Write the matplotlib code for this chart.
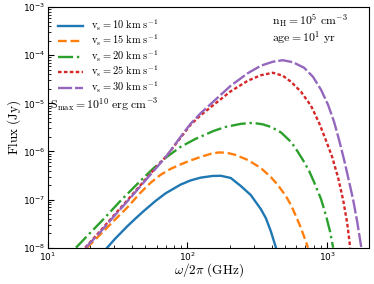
import numpy as np
import matplotlib
matplotlib.use("Agg")
import matplotlib.pyplot as plt

plt.rcParams['mathtext.fontset'] = 'cm'
plt.rcParams['xtick.direction'] = 'in'
plt.rcParams['ytick.direction'] = 'in'

# frequencies (GHz) and fluxes (Jy)
f10 = [26.6, 30.3, 37.0, 42.3, 48.2, 58.9, 69.5, 89.1, 105, 124, 151, 173, 204,
       241, 284, 335, 364, 395, 430]
s10 = [1e-8, 1.53e-8, 2.77e-8, 4.00e-8, 5.65e-8, 9.30e-8, 1.34e-7, 2.04e-7, 2.49e-7,
       2.85e-7, 3.09e-7, 3.12e-7, 2.81e-7, 1.91e-7, 1.24e-7, 6.34e-8, 4.12e-8, 2.21e-8, 1e-8]

f15 = [19.1, 21.8, 25.7, 30.3, 37.0, 45.9, 54.2, 63.9, 75.5, 89.1, 105, 124, 146, 167,
       191, 221, 270, 335, 395, 444, 507, 551, 598, 650, 730]
s15 = [1e-8, 1.47e-8, 2.37e-8, 3.83e-8, 6.81e-8, 1.37e-7, 2.21e-7, 3.24e-7, 4.32e-7,
       5.36e-7, 6.49e-7, 7.68e-7, 8.87e-7, 9.53e-7, 9.40e-7, 8.45e-7, 6.65e-7, 4.53e-7,
       2.94e-7, 2.00e-7, 1.18e-7, 7.68e-8, 4.53e-8, 2.55e-8, 1e-8]

f20 = [15.9, 20.0, 23.7, 27.9, 33.0, 38.9, 45.9, 56.9, 69.5, 89.1, 114, 154, 188, 241,
       294, 347, 395, 467, 551, 598, 671, 743, 806, 905, 984, 1052, 1105]
s20 = [1e-8, 2.00e-8, 3.32e-8, 5.49e-8, 9.30e-8, 1.50e-7, 2.43e-7, 4.43e-7, 7.32e-7,
       1.24e-6, 1.82e-6, 2.67e-6, 3.24e-6, 3.74e-6, 3.93e-6, 3.65e-6, 3.24e-6, 2.49e-6,
       1.58e-6, 1.13e-6, 6.65e-7, 3.93e-7, 2.32e-7, 1.02e-7, 4.53e-8, 2.10e-8, 1e-8]

f25 = [18.5, 23.7, 30.3, 38.9, 48.2, 58.9, 71.8, 89.1, 105, 124, 154, 204, 270, 335,
       409, 482, 551, 650, 767, 876, 984, 1087, 1200, 1303, 1393, 1463]
s25 = [1e-8, 2.21e-8, 4.99e-8, 1.13e-7, 2.32e-7, 4.53e-7, 8.45e-7, 1.91e-6, 3.56e-6,
       5.62e-6, 9.30e-6, 1.78e-5, 2.94e-5, 3.83e-5, 4.32e-5, 3.74e-5, 2.81e-5, 1.74e-5,
       8.87e-6, 3.93e-6, 1.66e-6, 7.68e-7, 2.81e-7, 9.76e-8, 3.24e-8, 1e-8]

f30 = [18.7, 23.7, 30.3, 38.9, 48.2, 58.9, 71.8, 89.1, 105, 124, 154, 204, 270, 335,
       409, 482, 569, 684, 792, 905, 1016, 1122, 1218, 1324, 1439, 1538, 1644, 1758]
s30 = [1e-8, 2.10e-8, 4.75e-8, 1.07e-7, 2.21e-7, 4.32e-7, 8.45e-7, 2.00e-6, 3.74e-6,
       6.19e-6, 1.10e-5, 2.32e-5, 4.22e-5, 6.04e-5, 7.32e-5, 7.87e-5, 7.15e-5, 5.49e-5,
       3.56e-5, 1.91e-5, 9.30e-6, 4.12e-6, 1.74e-6, 6.65e-7, 2.32e-7, 9.76e-8, 3.40e-8, 1e-8]

speeds = [10, 15, 20, 25, 30]
freqs = [f10, f15, f20, f25, f30]
fluxes = [s10, s15, s20, s25, s30]
colors = ['#1f77b4', '#ff7f0e', '#2ca02c', '#d62728', '#9467bd']
styles = ['-', (0, (3.7, 1.6)), (0, (6.4, 1.6, 1, 1.6)), (0, (1.5, 1.0)), (0, (6, 1.2))]

fig, ax = plt.subplots(figsize=(3.74, 2.84), dpi=100)
fig.subplots_adjust(left=0.128, right=0.987, top=0.975, bottom=0.128)

for v, f, s, c, ls in zip(speeds, freqs, fluxes, colors, styles):
    ax.loglog(f, s, color=c, ls=ls, lw=1.7,
              label=r'$\mathrm{v_s} = %d\ \mathrm{km\ s^{-1}}$' % v)

ax.set_xlim(10, 2000)
ax.set_ylim(1e-8, 1e-3)
ax.set_xlabel(r'$\omega/2\pi\ \mathrm{(GHz)}$', fontsize=9.5, labelpad=-1)
ax.set_ylabel(r'$\mathrm{Flux\ (Jy)}$', fontsize=9.5, labelpad=0)
ax.tick_params(labelsize=6.5)
ax.tick_params(which='major', length=4, pad=2)
ax.tick_params(which='minor', length=2.5)

leg = ax.legend(loc='upper left', frameon=False, fontsize=7.5,
                handlelength=2.4, handletextpad=0.7, borderaxespad=0.6,
                labelspacing=0.0)

ax.text(0.698, 0.94, r'$\mathrm{n_H} = 10^5\ \mathrm{cm^{-3}}$', transform=ax.transAxes,
        fontsize=8.5, va='center')
ax.text(0.698, 0.873, r'$\mathrm{age} = 10^1\ \mathrm{yr}$', transform=ax.transAxes,
        fontsize=8.5, va='center')
ax.text(0.006, 0.59, r'$\mathrm{S_{max}} = 10^{10}\ \mathrm{erg\ cm^{-3}}$',
        transform=ax.transAxes, fontsize=8.5, va='center')

plt.savefig('out.png', dpi=100)
